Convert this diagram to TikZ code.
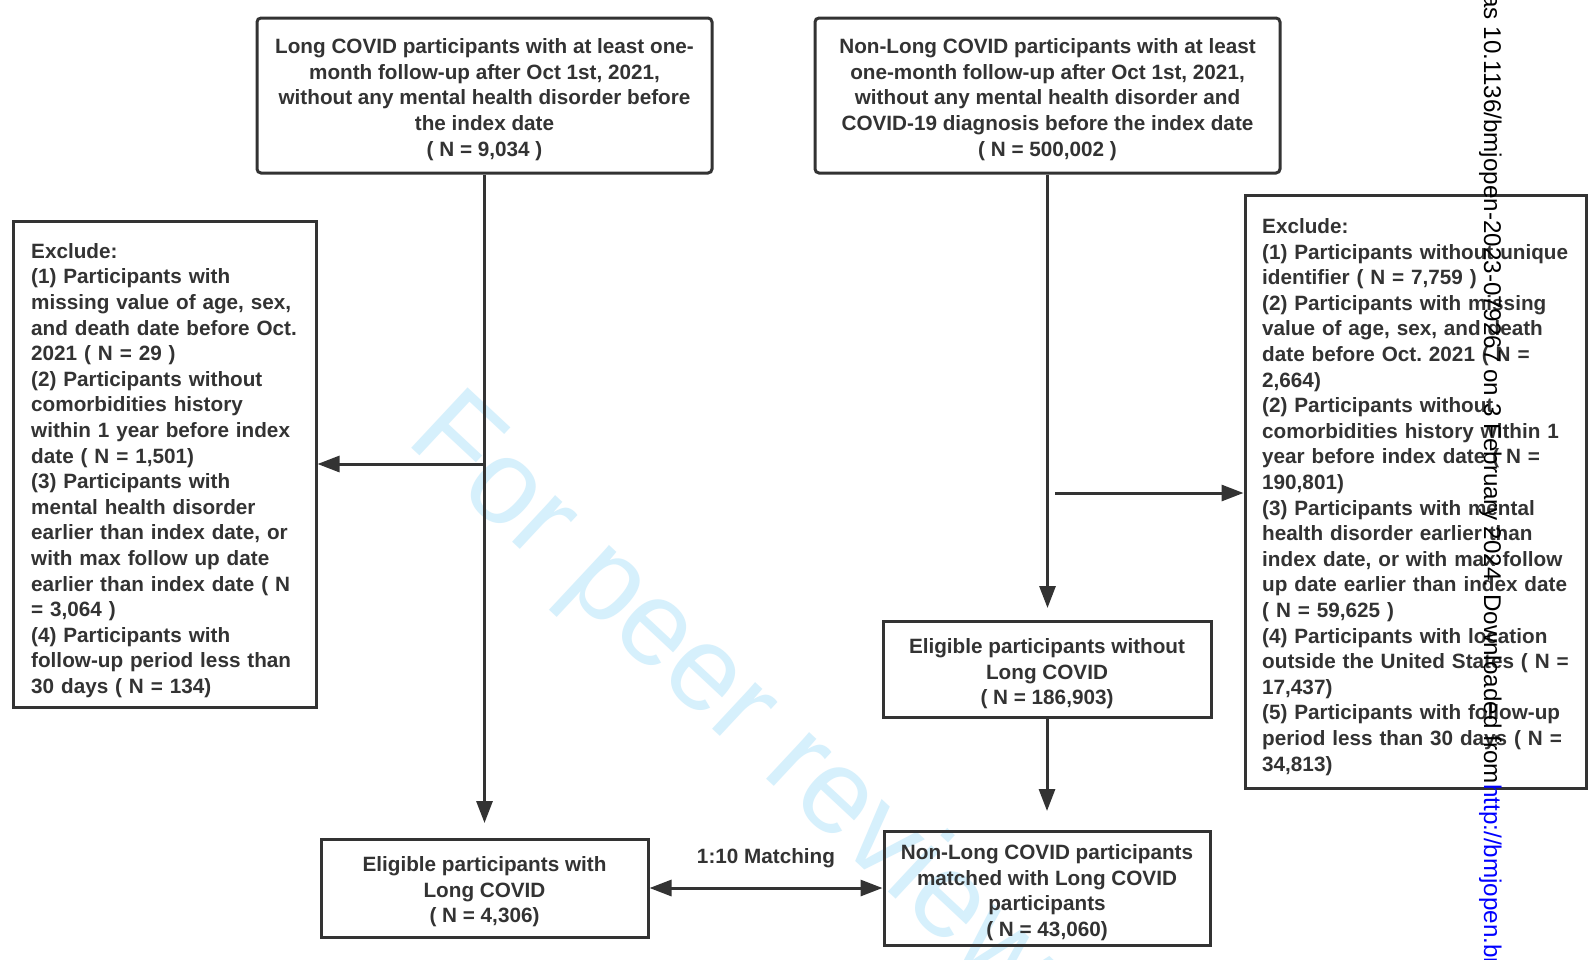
\documentclass[tikz,border=0pt]{standalone}
\usepackage{fontspec}
\setmainfont{Liberation Sans}
\usetikzlibrary{arrows.meta,calc}
\definecolor{dg}{HTML}{333333}
\definecolor{wmc}{RGB}{214,240,252}
\definecolor{lnk}{RGB}{0,0,255}
\frenchspacing
\begin{document}
\begin{tikzpicture}[x=1pt,y=-1pt,
  box/.style={draw=dg, line width=3pt, inner sep=0pt},
  rbox/.style={box, rounded corners=4pt},
  txt/.style={text=dg, font=\fontsize{20.7}{25.6}\selectfont\bfseries\frenchspacing, align=center, inner sep=0pt},
  ltxt/.style={text=dg, font=\fontsize{20.7}{25.6}\selectfont\bfseries\frenchspacing, align=left, inner sep=0pt, anchor=north west},
  arr/.style={draw=dg, line width=3pt, -{Triangle[length=22pt,width=16pt]}},
  darr/.style={draw=dg, line width=3pt, {Triangle[length=22pt,width=16pt]}-{Triangle[length=22pt,width=16pt]}},
  side/.style={rotate=-90, inner sep=0pt, font=\fontsize{24.2}{24.2}\selectfont\frenchspacing}
]
\useasboundingbox (0,0) rectangle (1590,959);
\fill[white] (0,0) rectangle (1590,959);

% watermark
\node[rotate=-43, anchor=base west, inner sep=0pt, text=wmc, font=\fontsize{120}{120}\selectfont] (wm) at (404,441) {For peer review only};

% boxes
\node[rbox, minimum width=455pt, minimum height=155pt] (A) at (484.5,95.5) {};
\node[txt] (At) at (484.5,99.5) {Long COVID participants with at least one-\\month follow-up after Oct 1st, 2021,\\without any mental health disorder before\\the index date\\( N = 9,034 )};

\node[rbox, minimum width=465pt, minimum height=155pt] (B) at (1047.5,95.5) {};
\node[txt] (Bt) at (1047.5,99.5) {Non-Long COVID participants with at least\\one-month follow-up after Oct 1st, 2021,\\without any mental health disorder and\\COVID-19 diagnosis before the index date\\( N = 500,002 )};

\node[box, minimum width=303pt, minimum height=486pt] (exl) at (164.5,464) {};
\node[ltxt, text width=285pt] (exlt) at (31,243) {Exclude:\\(1) Participants with\\missing value of age, sex,\\and death date before Oct.\\2021 ( N = 29 )\\(2) Participants without\\comorbidities history\\within 1 year before index\\date ( N = 1,501)\\(3) Participants with\\mental health disorder\\earlier than index date, or\\with max follow up date\\earlier than index date ( N\\= 3,064 )\\(4) Participants with\\follow-up period less than\\30 days ( N = 134)};

\node[box, minimum width=341pt, minimum height=593pt] (exr) at (1415.5,491.5) {};
\node[ltxt, text width=320pt] (exrt) at (1262,218.3) {Exclude:\\(1) Participants without unique\\identifier ( N = 7,759 )\\(2) Participants with missing\\value of age, sex, and death\\date before Oct. 2021 ( N =\\2,664)\\(2) Participants without\\comorbidities history within 1\\year before index date ( N =\\190,801)\\(3) Participants with mental\\health disorder earlier than\\index date, or with max follow\\up date earlier than index date\\( N = 59,625 )\\(4) Participants with location\\outside the United States ( N =\\17,437)\\(5) Participants with follow-up\\period less than 30 days ( N =\\34,813)};

\node[box, minimum width=328pt, minimum height=96pt] (EW) at (1047,669) {};
\node[txt] (EWt) at (1047,674) {Eligible participants without\\Long COVID\\( N = 186,903)};

\node[box, minimum width=327pt, minimum height=98pt] (EL) at (484.5,888) {};
\node[txt] (ELt) at (484.5,892) {Eligible participants with\\Long COVID\\( N = 4,306)};

\node[box, minimum width=326pt, minimum height=114pt] (M) at (1047,888) {};
\node[txt] (Mt) at (1047,892.5) {Non-Long COVID participants\\matched with Long COVID\\participants\\( N = 43,060)};

\node[txt] (lab) at (766,858) {1:10 Matching};

% connectors
\coordinate (tA) at (484.5,823);
\coordinate (jL) at (484.5,464);
\coordinate (tB) at (1047.5,608);
\coordinate (jR) at (1055,493);
\coordinate (tEW) at (1047,811);
\draw[arr] (A.south) -- (tA);
\draw[arr] (jL) -- (exl.east |- jL);
\draw[arr] (B.south) -- (tB);
\draw[arr] (jR) -- (exr.west |- jR);
\draw[arr] (EW.south) -- (tEW);
\draw[darr] (EL.east) -- (M.west);

% side note
\node[side, anchor=base east] (sas) at (1484,20) {as};
\node[side, anchor=base west] (sdoi) at (sas.base east) {\ 10.1136/bmjopen-2023-079267 on 3 February 2024. Downloaded from\ };
\node[side, anchor=base west, text=lnk] (slink) at (sdoi.base east) {http://bmjopen.bmj.com/};
\end{tikzpicture}
\end{document}
